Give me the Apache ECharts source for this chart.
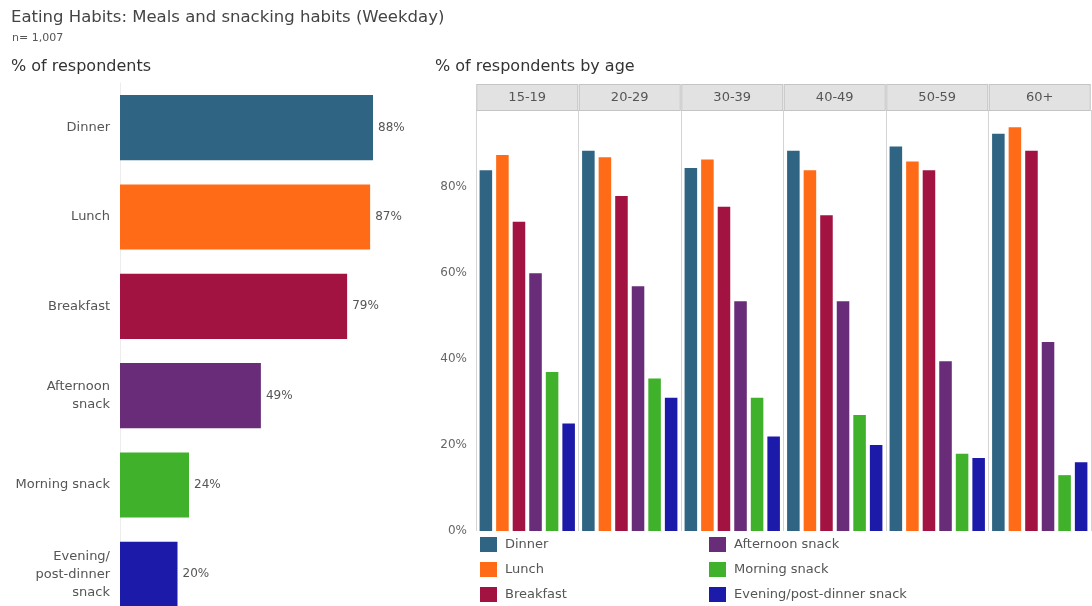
<!DOCTYPE html>
<html>
<head>
<meta charset="utf-8">
<script src="https://cdn.jsdelivr.net/npm/echarts@6/dist/echarts.min.js"></script>
<style>
  html, body { margin: 0; padding: 0; background: #ffffff; }
  #chart { width: 1092px; height: 606px; }
</style>
</head>
<body>
<div id="chart"></div>
<script>
// Overall share of respondents per meal
const mealCategories = ['Dinner', 'Lunch', 'Breakfast', 'Afternoon\nsnack', 'Morning snack', 'Evening/\npost-dinner\nsnack'];
const mealValues = [88, 87, 79, 49, 24, 20];

// Share by age group
const ageGroups = ['15-19', '20-29', '30-39', '40-49', '50-59', '60+'];
const seriesNames = ['Dinner', 'Lunch', 'Breakfast', 'Afternoon snack', 'Morning snack', 'Evening/post-dinner snack'];
const dinnerByAge = [84, 88.5, 84.5, 88.5, 89.5, 92.5];
const lunchByAge = [87.5, 87, 86.5, 84, 86, 94];
const breakfastByAge = [72, 78, 75.5, 73.5, 84, 88.5];
const afternoonByAge = [60, 57, 53.5, 53.5, 39.5, 44];
const morningByAge = [37, 35.5, 31, 27, 18, 13];
const eveningByAge = [25, 31, 22, 20, 17, 16];

const palette = ['#2f6483', '#ff6b17', '#a31341', '#682c78', '#40b12b', '#1c1ba9'];
const font = '"DejaVu Sans", Verdana, sans-serif';

const byAge = [dinnerByAge, lunchByAge, breakfastByAge, afternoonByAge, morningByAge, eveningByAge];

const chart = echarts.init(document.getElementById('chart'), null, { renderer: 'canvas' });

const legendBase = {
  orient: 'vertical', top: 537, padding: 0, icon: 'rect',
  itemWidth: 17, itemHeight: 15, itemGap: 10,
  textStyle: { fontSize: 13, color: '#555', fontFamily: font, padding: [0, 0, 0, 3] }
};

const option = {
  animation: false,
  backgroundColor: '#ffffff',
  textStyle: { fontFamily: font },
  title: [
    { text: 'Eating Habits: Meals and snacking habits (Weekday)', left: 11, top: 9, padding: 0,
      textStyle: { fontSize: 16.5, fontWeight: 'normal', color: '#444', fontFamily: font } },
    { text: 'n= 1,007', left: 12, top: 33, padding: 0,
      textStyle: { fontSize: 11, fontWeight: 'normal', color: '#555', fontFamily: font } },
    { text: '% of respondents', left: 11, top: 59, padding: 0,
      textStyle: { fontSize: 16, fontWeight: 'normal', color: '#333', fontFamily: font } },
    { text: '% of respondents by age', left: 435, top: 59, padding: 0,
      textStyle: { fontSize: 16, fontWeight: 'normal', color: '#333', fontFamily: font } }
  ],
  legend: [
    Object.assign({}, legendBase, { data: seriesNames.slice(0, 3), left: 480 }),
    Object.assign({}, legendBase, { data: seriesNames.slice(3), left: 709 })
  ],
  grid: [
    { left: 120, top: 83, width: 287.5, height: 536, outerBoundsMode: 'none' },
    { left: 476, top: 110, width: 615, bottom: 75, outerBoundsMode: 'none' }
  ],
  xAxis: [
    { gridIndex: 0, type: 'value', min: 0, max: 100, show: false },
    { gridIndex: 1, type: 'category', data: ageGroups,
      axisLine: { show: false }, axisTick: { show: false }, axisLabel: { show: false },
      splitLine: { show: true, lineStyle: { color: '#d4d4d4', width: 1 } } },
    { gridIndex: 1, type: 'category', data: ageGroups, position: 'top',
      axisLine: { show: false }, axisTick: { show: false },
      axisLabel: { show: true, interval: 0, showMinLabel: true, showMaxLabel: true, hideOverlap: false,
        margin: 0, color: '#555', fontSize: 13, fontFamily: font,
        backgroundColor: '#e2e2e2', borderColor: '#c4c4c4', borderWidth: 1,
        width: 100, height: 25, lineHeight: 25, align: 'center', overflow: 'none' } }
  ],
  yAxis: [
    { gridIndex: 0, type: 'category', data: mealCategories, inverse: true,
      axisLine: { show: true, lineStyle: { color: '#ececec' } }, axisTick: { show: false },
      axisLabel: { color: '#555', fontSize: 13, margin: 10, lineHeight: 18, fontFamily: font } },
    { gridIndex: 1, type: 'value', min: 0, max: 98, interval: 20,
      axisLine: { show: false }, axisTick: { show: false }, splitLine: { show: false },
      axisLabel: { color: '#666', fontSize: 12, margin: 9, showMaxLabel: false,
        formatter: '{value}%', fontFamily: font } }
  ],
  series: [
    { type: 'bar', xAxisIndex: 0, yAxisIndex: 0, barCategoryGap: '27%',
      data: mealValues.map((v, i) => ({ value: v, itemStyle: { color: palette[i] } })),
      label: { show: true, position: 'right', distance: 5, formatter: '{c}%',
        color: '#555', fontSize: 12, fontFamily: font } }
  ].concat(byAge.map((vals, i) => ({
    type: 'bar', name: seriesNames[i], xAxisIndex: 1, yAxisIndex: 1,
    data: vals, barGap: '32%', barCategoryGap: '7%',
    itemStyle: { color: palette[i] }
  })))
};

chart.setOption(option);
</script>
</body>
</html>
